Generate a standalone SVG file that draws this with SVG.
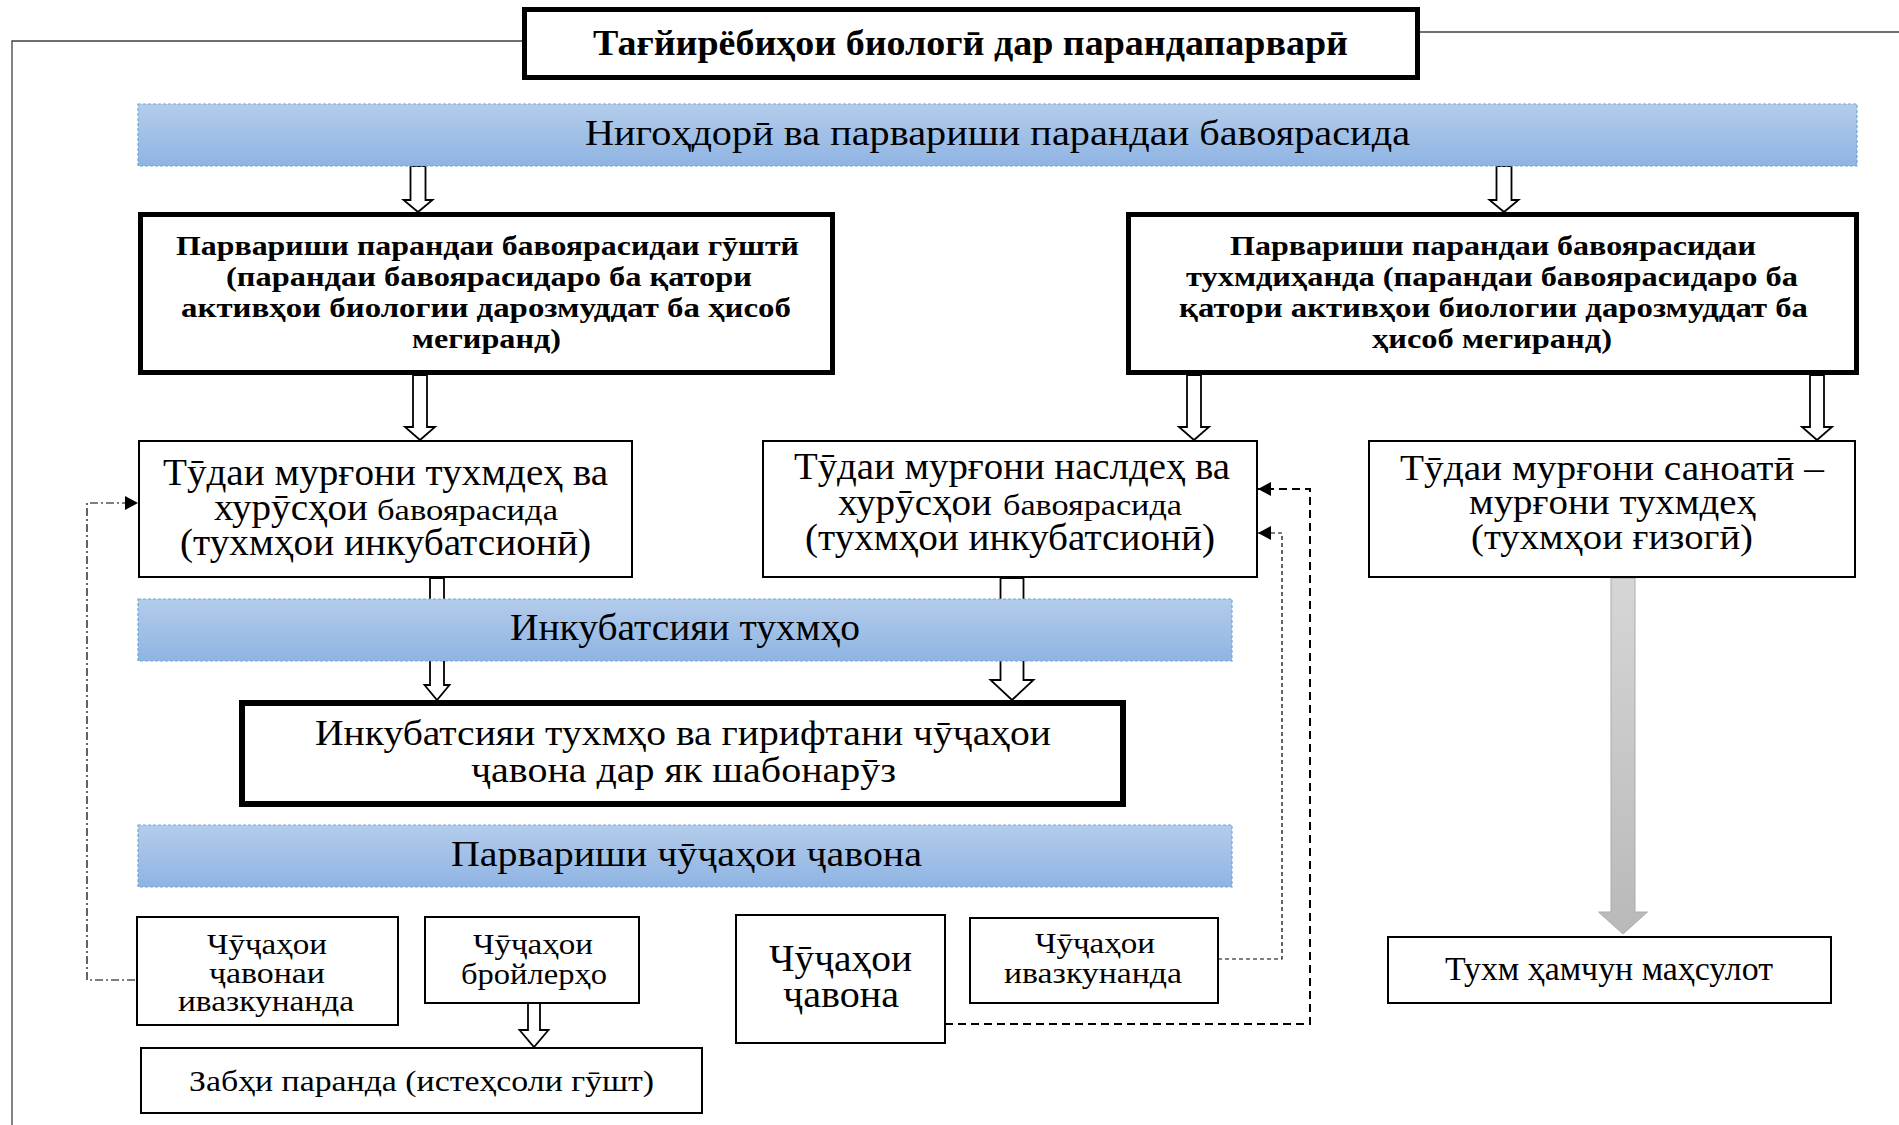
<svg xmlns="http://www.w3.org/2000/svg" width="1899" height="1125" viewBox="0 0 1899 1125">
<defs>
<linearGradient id="blue" x1="0" y1="0" x2="0" y2="1">
<stop offset="0" stop-color="#b3cceb"/>
<stop offset="1" stop-color="#8fb4e3"/>
</linearGradient>
<linearGradient id="grey" x1="0" y1="0" x2="0" y2="1">
<stop offset="0" stop-color="#d6d6d6"/>
<stop offset="1" stop-color="#b9b9b9"/>
</linearGradient>
<marker id="ah" markerUnits="userSpaceOnUse" markerWidth="14" markerHeight="14" refX="13" refY="7" orient="auto">
<path d="M0,0 L13,7 L0,14 z" fill="#000"/>
</marker>
<style>
text{font-family:"Liberation Serif","Times New Roman",serif;fill:#000}
.b{font-weight:bold}
.thick{fill:#fff;stroke:#000;stroke-width:5}
.thin{fill:#fff;stroke:#000;stroke-width:2}
.band{fill:url(#blue);stroke:#6fa8dc;stroke-width:1.2;stroke-dasharray:3,2}
.hol{fill:#fff;stroke:#000;stroke-width:1.8;stroke-linejoin:miter}
.frame{fill:none;stroke:#404040;stroke-width:1.3}
.con{fill:none;stroke:#000}
</style>
</defs>
<rect width="1899" height="1125" fill="#fff"/>

<g id="frame-lines">
<path class="frame" d="M522,41 H12 V1125"/>
<path class="frame" d="M1420,32 H1899"/>
</g>

<g id="block-arrows">
<polygon class="hol" points="410.5,166 425.5,166 425.5,200 432.5,200 418,212 403.5,200 410.5,200"/>
<polygon class="hol" points="1496.5,166 1511.5,166 1511.5,200 1518.5,200 1504,212 1489.5,200 1496.5,200"/>
<polygon class="hol" points="413,375 427,375 427,427 435,427 420,440 405,427 413,427"/>
<polygon class="hol" points="1187,375 1201,375 1201,427 1209,427 1194,440 1179,427 1187,427"/>
<polygon class="hol" points="1810,375 1824,375 1824,427 1832,427 1817,440 1802,427 1810,427"/>
<polygon class="hol" points="430,578 444,578 444,685 449.5,685 437,700 424.5,685 430,685"/>
<polygon class="hol" points="1000.5,578 1023.5,578 1023.5,680 1033.5,680 1012,700 990.5,680 1000.5,680"/>
<polygon class="hol" points="528,1003 540,1003 540,1030 548.5,1030 534,1047 519.5,1030 528,1030"/>
<polygon fill="url(#grey)" stroke="#ababab" stroke-width="1" points="1611,578 1635,578 1635,912 1647.5,912 1623,934 1598.5,912 1611,912"/>
</g>

<g id="connectors">
<path class="con" stroke-width="1.2" stroke-dasharray="8,3,2,3" d="M135,980 H87 V503 H138" marker-end="url(#ah)"/>
<path class="con" stroke-width="1.2" stroke-dasharray="4,3" d="M1218,959 H1282 V533 H1258" marker-end="url(#ah)"/>
<path class="con" stroke-width="2" stroke-dasharray="8,5" d="M945,1024 H1310 V489 H1258" marker-end="url(#ah)"/>
</g>

<g id="title">
<rect class="thick" x="524.5" y="9.5" width="893" height="68"/>
<text class="b" x="593" y="55" font-size="36" textLength="755" lengthAdjust="spacingAndGlyphs">Тағйирёбиҳои биологӣ дар парандапарварӣ</text>
</g>

<g id="band-storage">
<rect class="band" x="138" y="104" width="1719" height="62"/>
<text x="585" y="145" font-size="36" textLength="825" lengthAdjust="spacingAndGlyphs">Нигоҳдорӣ ва парвариши парандаи бавоярасида</text>
</g>

<g id="box-meat">
<rect class="thick" x="140.5" y="214.5" width="692" height="158"/>
<text class="b" font-size="28">
<tspan x="176" y="255" textLength="623" lengthAdjust="spacingAndGlyphs">Парвариши парандаи бавоярасидаи гӯштӣ</tspan>
<tspan x="226" y="286" textLength="526" lengthAdjust="spacingAndGlyphs">(парандаи бавоярасидаро ба қатори</tspan>
<tspan x="181" y="317" textLength="610" lengthAdjust="spacingAndGlyphs">активҳои биологии дарозмуддат ба ҳисоб</tspan>
<tspan x="412" y="348" textLength="149" lengthAdjust="spacingAndGlyphs">мегиранд)</tspan>
</text>
</g>

<g id="box-egg">
<rect class="thick" x="1128.5" y="214.5" width="728" height="158"/>
<text class="b" font-size="28">
<tspan x="1230" y="255" textLength="526" lengthAdjust="spacingAndGlyphs">Парвариши парандаи бавоярасидаи</tspan>
<tspan x="1186" y="286" textLength="612" lengthAdjust="spacingAndGlyphs">тухмдиҳанда (парандаи бавоярасидаро ба</tspan>
<tspan x="1179" y="317" textLength="629" lengthAdjust="spacingAndGlyphs">қатори активҳои биологии дарозмуддат ба</tspan>
<tspan x="1372" y="348" textLength="240" lengthAdjust="spacingAndGlyphs">ҳисоб мегиранд)</tspan>
</text>
</g>

<g id="flock-layer">
<rect class="thin" x="139" y="441" width="493" height="136"/>
<text font-size="37" x="163" y="485" textLength="445" lengthAdjust="spacingAndGlyphs">Тӯдаи мурғони тухмдеҳ ва</text>
<text font-size="37" x="214" y="520" textLength="154" lengthAdjust="spacingAndGlyphs">хурӯсҳои</text>
<text font-size="30" x="377" y="520" textLength="181" lengthAdjust="spacingAndGlyphs">бавоярасида</text>
<text font-size="37" x="180" y="555" textLength="411" lengthAdjust="spacingAndGlyphs">(тухмҳои инкубатсионӣ)</text>
</g>

<g id="flock-breeder">
<rect class="thin" x="763" y="441" width="494" height="136"/>
<text font-size="37" x="794" y="479" textLength="436" lengthAdjust="spacingAndGlyphs">Тӯдаи мурғони наслдеҳ ва</text>
<text font-size="37" x="838" y="515" textLength="154" lengthAdjust="spacingAndGlyphs">хурӯсҳои</text>
<text font-size="30" x="1003" y="515" textLength="179" lengthAdjust="spacingAndGlyphs">бавоярасида</text>
<text font-size="37" x="805" y="550" textLength="410" lengthAdjust="spacingAndGlyphs">(тухмҳои инкубатсионӣ)</text>
</g>

<g id="flock-industrial">
<rect class="thin" x="1369" y="441" width="486" height="136"/>
<text font-size="36">
<tspan x="1400" y="480" textLength="424" lengthAdjust="spacingAndGlyphs">Тӯдаи мурғони саноатӣ –</tspan>
<tspan x="1469" y="514" textLength="287" lengthAdjust="spacingAndGlyphs">мурғони тухмдеҳ</tspan>
<tspan x="1471" y="549" textLength="282" lengthAdjust="spacingAndGlyphs">(тухмҳои ғизогӣ)</tspan>
</text>
</g>

<g id="band-incubation">
<rect class="band" x="138" y="599" width="1094" height="62"/>
<text x="510" y="640" font-size="37" textLength="350" lengthAdjust="spacingAndGlyphs">Инкубатсияи тухмҳо</text>
</g>

<g id="box-hatch">
<rect x="242" y="703" width="881" height="101" fill="#fff" stroke="#000" stroke-width="6"/>
<text font-size="35">
<tspan x="315" y="745" textLength="736" lengthAdjust="spacingAndGlyphs">Инкубатсияи тухмҳо ва гирифтани чӯҷаҳои</tspan>
<tspan x="471" y="782" textLength="425" lengthAdjust="spacingAndGlyphs">ҷавона дар як шабонарӯз</tspan>
</text>
</g>

<g id="band-rearing">
<rect class="band" x="138" y="825" width="1094" height="62"/>
<text x="451" y="866" font-size="35" textLength="471" lengthAdjust="spacingAndGlyphs">Парвариши чӯҷаҳои ҷавона</text>
</g>

<g id="chicks-replacement-layer">
<rect class="thin" x="137" y="917" width="261" height="108"/>
<text font-size="30">
<tspan x="207" y="954" textLength="120" lengthAdjust="spacingAndGlyphs">Чӯҷаҳои</tspan>
<tspan x="209" y="983" textLength="116" lengthAdjust="spacingAndGlyphs">ҷавонаи</tspan>
<tspan x="178" y="1011" textLength="176" lengthAdjust="spacingAndGlyphs">ивазкунанда</tspan>
</text>
</g>

<g id="chicks-broiler">
<rect class="thin" x="425" y="917" width="214" height="86"/>
<text font-size="30">
<tspan x="473" y="954" textLength="120" lengthAdjust="spacingAndGlyphs">Чӯҷаҳои</tspan>
<tspan x="461" y="984" textLength="146" lengthAdjust="spacingAndGlyphs">бройлерҳо</tspan>
</text>
</g>

<g id="slaughter">
<rect class="thin" x="141" y="1048" width="561" height="65"/>
<text font-size="30" x="189" y="1091" textLength="465" lengthAdjust="spacingAndGlyphs">Забҳи паранда (истеҳсоли гӯшт)</text>
</g>

<g id="chicks-young">
<rect class="thin" x="736" y="915" width="209" height="128"/>
<text font-size="37">
<tspan x="769" y="971" textLength="143" lengthAdjust="spacingAndGlyphs">Чӯҷаҳои</tspan>
<tspan x="783" y="1007" textLength="116" lengthAdjust="spacingAndGlyphs">ҷавона</tspan>
</text>
</g>

<g id="chicks-replacement">
<rect class="thin" x="970" y="918" width="248" height="85"/>
<text font-size="30">
<tspan x="1035" y="953" textLength="120" lengthAdjust="spacingAndGlyphs">Чӯҷаҳои</tspan>
<tspan x="1004" y="983" textLength="178" lengthAdjust="spacingAndGlyphs">ивазкунанда</tspan>
</text>
</g>

<g id="egg-product">
<rect class="thin" x="1388" y="937" width="443" height="66"/>
<text font-size="33" x="1445" y="980" textLength="328" lengthAdjust="spacingAndGlyphs">Тухм ҳамчун маҳсулот</text>
</g>
</svg>
